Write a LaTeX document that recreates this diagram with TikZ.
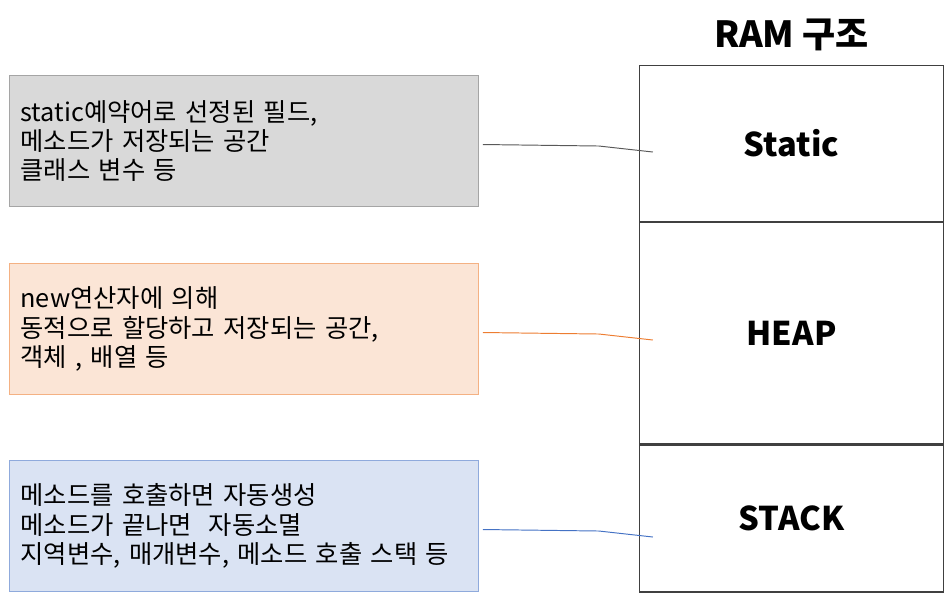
\documentclass[tikz,border=0pt]{standalone}
\usepackage{fontspec}
\setmainfont{Noto Sans CJK KR}
\usetikzlibrary{positioning,calc}
\definecolor{memogray}{HTML}{D9D9D9}
\definecolor{memograyline}{HTML}{A5A5A5}
\definecolor{memoorange}{HTML}{FBE5D6}
\definecolor{memoorangeline}{HTML}{F4B183}
\definecolor{memoblue}{HTML}{DAE3F3}
\definecolor{memoblueline}{HTML}{8FAADC}
\definecolor{linkgray}{HTML}{595959}
\definecolor{linkorange}{HTML}{ED7D31}
\definecolor{linkblue}{HTML}{4472C4}
\definecolor{ramline}{HTML}{404040}

\begin{document}
\begin{tikzpicture}[
  x=0.02cm, y=-0.02cm,
  memo/.style={draw, line width=0.6pt, minimum width=9.38cm, minimum height=2.62cm,
    text width=8.94cm, align=left, inner sep=0pt,
    font=\fontsize{14.4}{16.6}\selectfont},
  cell/.style={draw=ramline, line width=0.7pt, minimum width=6.08cm, inner sep=0pt,
    font=\fontsize{18.6}{22}\selectfont\bfseries},
  link/.style={line width=0.55pt}
]
\useasboundingbox (0,0) rectangle (951,599);

% RAM column, three cells stacked
\node[cell, minimum height=3.12cm, anchor=north west] (static) at (639,65) {Static};
\node[cell, minimum height=4.42cm, below=0pt of static] (heap) {HEAP};
\node[cell, minimum height=2.94cm, below=0pt of heap] (stack) {STACK};
\node[font=\fontsize{20.5}{24}\selectfont\bfseries, above=0.16cm of static] (title) {RAM 구조};

% notes on the left
\node[memo, fill=memogray, draw=memograyline, anchor=north west] (mstatic) at (9,75)
  {static예약어로 선정된 필드,\\메소드가 저장되는 공간\\클래스 변수 등};
\node[memo, fill=memoorange, draw=memoorangeline, anchor=north west] (mheap) at (9,263)
  {new연산자에 의해\\동적으로 할당하고 저장되는 공간,\\객체 , 배열 등};
\node[memo, fill=memoblue, draw=memoblueline, anchor=north west] (mstack) at (9,460)
  {메소드를 호출하면 자동생성\\메소드가 끝나면\ \ 자동소멸\\지역변수, 매개변수, 메소드 호출 스택 등};

% connectors: slight kink, ending just inside the column
\foreach \m/\col in {mstatic/linkgray, mheap/linkorange, mstack/linkblue} {
  \coordinate (\m-end) at ($(\m.east)+(174,11)$);
  \draw[link, \col] ($(\m.east)+(4,3.5)$) -- ($(\m.east)+(120,5)$) -- (\m-end);
}
\end{tikzpicture}
\end{document}
